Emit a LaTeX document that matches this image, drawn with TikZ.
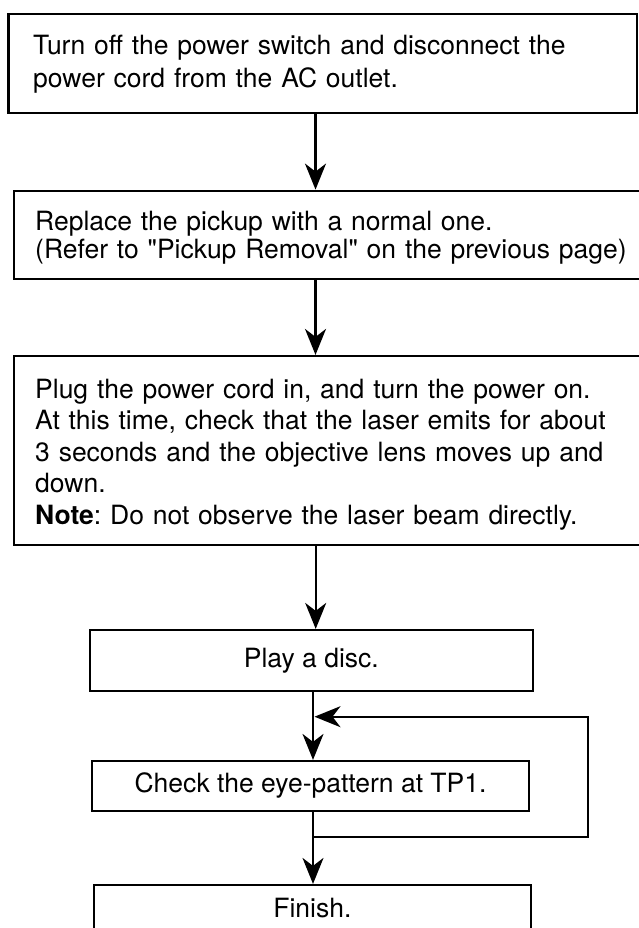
\documentclass[tikz,border=0pt]{standalone}
\usepackage{fontspec}
\setmainfont{TeX Gyre Heros}
\usetikzlibrary{arrows.meta,calc}
\begin{document}
\frenchspacing
\begin{tikzpicture}[x=1pt,y=-1pt,
  box/.style={draw=black,line width=2.2pt,rectangle,inner sep=0pt},
  txt/.style={inner sep=0pt,anchor=base west,text width=610pt,align=left,
    font=\fontsize{26.5}{31.6}\selectfont},
  ctxt/.style={font=\fontsize{26.5}{31.6}\selectfont},
  arr/.style={line width=2.2pt,-{Stealth[length=26pt,width=21pt,inset=8pt]}}]
\fill[white] (0,0) rectangle (639,928);
\useasboundingbox (0,0) rectangle (639,928);
% boxes
\node[box,line width=2.5pt,minimum width=628.3pt,minimum height=99pt] (b1) at (322.85,63.5) {};
\node[box,minimum width=626pt,minimum height=88pt] (b2) at (327,234.7) {};
\node[box,minimum width=626pt,minimum height=189pt] (b3) at (327,450.5) {};
\node[box,ctxt,minimum width=442.7pt,minimum height=60.7pt] (play) at (311.35,660.35) {Play a disc.};
\node[box,ctxt,minimum width=437pt,minimum height=49.7pt] (chk) at (310.5,785.85) {Check the eye-pattern at TP1.};
\node[box,ctxt,minimum width=436.7pt,minimum height=46pt] (fin) at (312.35,908) {Finish.};
% texts
\node[txt,font=\fontsize{26.5}{32.2}\selectfont] (t1) at (33,55) {\mbox{Turn off the power switch and disconnect the}\\\mbox{power cord from the AC outlet.}};
\node[txt,font=\fontsize{26.5}{28.3}\selectfont] (t2) at (35,230) {\mbox{Replace the pickup with a normal one.}\\\mbox{(Refer to \textquotedbl Pickup Removal\textquotedbl{} on the previous page)}};
\node[txt] (t3) at (35,398) {\mbox{Plug the power cord in, and turn the power on.}\\\mbox{At this time, check that the laser emits for about}\\\mbox{3 seconds and the objective lens moves up and}\\\mbox{down.}\\\mbox{\textbf{Note}: Do not observe the laser beam directly.}};
% connectors
\coordinate (ax) at (315.5,0);
\coordinate (bx) at (313,0);
\coordinate (cx) at (315.7,0);
\coordinate (split) at (313,837);
\coordinate (rt) at (588.3,716.7);
\coordinate (join) at (314.5,716.7);
\draw[arr] (b1.south -| ax) -- (b2.north -| ax);
\draw[arr] (b2.south -| ax) -- (b3.north -| ax);
\draw[arr] (b3.south -| cx) -- (play.north -| cx);
\draw[arr] (play.south -| bx) -- (chk.north -| bx);
\draw[arr] (chk.south -| bx) -- (fin.north -| bx);
\draw[arr] (split) -| (rt) -- (join);
\end{tikzpicture}
\end{document}
